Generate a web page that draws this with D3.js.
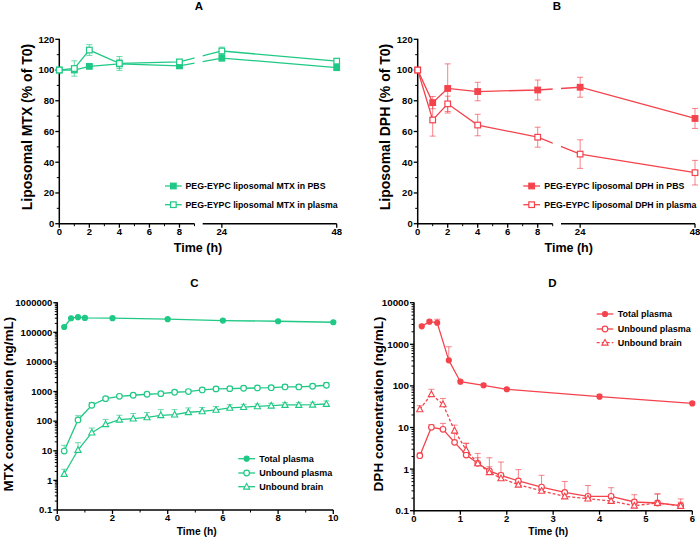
<!DOCTYPE html>
<html><head><meta charset="utf-8">
<script src="https://cdn.jsdelivr.net/npm/d3@7"></script>
<style>
body{margin:0;background:#fff}
svg{display:block}
text{font-family:"Liberation Sans",Arial,sans-serif;font-weight:bold;fill:#000}
</style></head>
<body><svg id="chart" width="700" height="539"></svg>
<script>
// ---------- DATA ----------
const timesAB = [0, 1, 2, 4, 8, 24, 48];
const mtxPBS = [100, 100, 102.4, 104, 102.7, 107.8, 101.6];
const mtxPBSsd = [0, 0.8, 1, 3, 1.5, 2, 2];
const mtxPlasma = [100, 101, 113, 104.3, 105.3, 112.4, 105.8];
const mtxPlasmaSd = [0, 5, 3.5, 4.5, 1.5, 2.5, 1.5];

const dphPBS = [100, 78.8, 88, 86, 87, 88.8, 68.5];
const dphPBSsd = [0, 4, 16, 6, 6.5, 6.5, 6.5];
const dphPlasma = [100, 67.5, 78, 64.2, 56.3, 45.3, 33.2];
const dphPlasmaSd = [0, 10.5, 5, 7, 6.5, 9.3, 8];

const timesCtot = [0.25, 0.5, 0.75, 1, 2, 4, 6, 8, 10];
const mtxTotal = [151000, 299000, 324000, 306000, 300000, 277000, 249000, 236000, 219000];
const mtxTotalSd = [10000, 15000, 15000, 15000, 12000, 12000, 12000, 10000, 10000];
const timesCunb = [0.25, 0.75, 1.25, 1.75, 2.25, 2.75, 3.25, 3.75, 4.25, 4.75, 5.25, 5.75, 6.25, 6.75, 7.25, 7.75, 8.25, 8.75, 9.25, 9.75];
const mtxUnbPlasma = [9.8, 110, 344, 575, 690, 750, 810, 850, 946, 1000, 1130, 1230, 1250, 1290, 1320, 1350, 1430, 1430, 1510, 1630];
const mtxUnbPlasmaSd = [5.5, 43, 80, 90, 100, 100, 110, 120, 140, 150, 170, 200, 220, 230, 250, 250, 280, 280, 300, 350];
const mtxUnbBrain = [1.64, 10.6, 41, 78.5, 112, 122, 135, 158, 166, 200, 215, 240, 280, 300, 318, 333, 352, 352, 360, 380];
const mtxUnbBrainSd = [0.73, 8.2, 17.6, 36, 46, 60, 60, 87, 79, 80, 75, 70, 80, 70, 62, 67, 68, 68, 75, 100];

const timesDtot = [0.167, 0.333, 0.5, 0.75, 1, 1.5, 2, 4, 6];
const dphTotal = [2700, 3500, 3300, 412, 126, 103, 83, 55, 38];
const dphTotalSd = [300, 300, 700, 460, 10, 8, 5, 8, 3];
const timesDunb = [0.125, 0.375, 0.625, 0.875, 1.125, 1.375, 1.625, 1.875, 2.25, 2.75, 3.25, 3.75, 4.25, 4.75, 5.25, 5.75];
const dphUnbPlasma = [2.1, 10.1, 9.06, 4.4, 2.18, 1.38, 0.91, 0.71, 0.52, 0.37, 0.275, 0.222, 0.222, 0.162, 0.153, 0.132];
const dphUnbPlasmaSd = [0.35, 1.6, 3.5, 2.8, 2, 1, 0.96, 0.77, 0.45, 0.34, 0.23, 0.18, 0.135, 0.08, 0.1, 0.06];
const dphUnbBrain = [27.4, 63, 36, 8.4, 2.87, 1.38, 0.84, 0.6, 0.42, 0.30, 0.22, 0.195, 0.171, 0.132, 0.153, 0.13];
const dphUnbBrainSd = [6, 20, 14, 3, 1.3, 0.5, 0.3, 0.2, 0.1, 0.08, 0.05, 0.04, 0.03, 0.02, 0.1, 0.03];

const linTicksY = [0, 20, 40, 60, 80, 100, 120];
const linMinorY = [10, 30, 50, 70, 90, 110];
const seg1Ticks = [0, 2, 4, 6, 8];
const seg1Minor = [1, 3, 5, 7, 9];
const seg2Ticks = [24, 48];
const logTicksC = [0.1, 1, 10, 100, 1000, 10000, 100000, 1000000];
const logTicksD = [0.1, 1, 10, 100, 1000, 10000];
const ticksCx = [0, 2, 4, 6, 8, 10];
const minorCx = [1, 3, 5, 7, 9];
const ticksDx = [0, 1, 2, 3, 4, 5, 6];

const GREEN = "#1fc985";
const RED = "#f4434c";

// ---------- HELPERS ----------
const svg = d3.select("#chart");
const zip = (ts, vs, sds) => ts.map((t, i) => ({t, v: vs[i], sd: sds ? sds[i] : 0}));

function axisY(g, y, x0, majors, minors, fmt, fs) {
  const [r0, r1] = y.range();
  g.append("line").attr("x1", x0).attr("x2", x0).attr("y1", r0 + 0.75).attr("y2", r1 - 0.5)
    .attr("stroke", "#000").attr("stroke-width", 1.5);
  majors.forEach(v => {
    g.append("line").attr("x1", x0 - 4).attr("x2", x0).attr("y1", y(v)).attr("y2", y(v)).attr("stroke", "#000").attr("stroke-width", 1.3);
    g.append("text").attr("x", x0 - 5).attr("y", y(v)).attr("dy", "0.35em").attr("text-anchor", "end")
      .style("font-size", fs + "px").text(fmt(v));
  });
  minors.forEach(v => {
    g.append("line").attr("x1", x0 - 2.5).attr("x2", x0).attr("y1", y(v)).attr("y2", y(v)).attr("stroke", "#000").attr("stroke-width", 1);
  });
}
function axisX(g, x, y0, a, b, majors, minors, fs) {
  g.append("line").attr("x1", a).attr("x2", b).attr("y1", y0).attr("y2", y0).attr("stroke", "#000").attr("stroke-width", 1.5);
  majors.forEach(v => {
    g.append("line").attr("x1", x(v)).attr("x2", x(v)).attr("y1", y0).attr("y2", y0 + 4).attr("stroke", "#000").attr("stroke-width", 1.3);
    g.append("text").attr("x", x(v)).attr("y", y0 + 4.5).attr("dy", "0.72em").attr("text-anchor", "middle")
      .style("font-size", fs + "px").text(v);
  });
  minors.forEach(v => {
    g.append("line").attr("x1", x(v)).attr("x2", x(v)).attr("y1", y0).attr("y2", y0 + 2.5).attr("stroke", "#000").attr("stroke-width", 1);
  });
}
function logMinors(lo, hi) {
  const out = [];
  for (let d = lo; d < hi; d *= 10) for (let k = 2; k <= 9; k++) out.push(d * k);
  return out;
}
function errBars(g, data, x, y, color, both) {
  data.forEach(d => {
    if (!d.sd) return;
    const top = y(d.v + d.sd), bot = both ? y(Math.max(d.v - d.sd, 1e-9)) : y(d.v);
    const gx = x(d.t);
    g.append("line").attr("x1", gx).attr("x2", gx).attr("y1", top).attr("y2", bot).attr("stroke", color).attr("stroke-width", 1).attr("opacity", 0.65);
    g.append("line").attr("x1", gx - 3).attr("x2", gx + 3).attr("y1", top).attr("y2", top).attr("stroke", color).attr("stroke-width", 1).attr("opacity", 0.65);
    if (both) g.append("line").attr("x1", gx - 3).attr("x2", gx + 3).attr("y1", bot).attr("y2", bot).attr("stroke", color).attr("stroke-width", 1).attr("opacity", 0.65);
  });
}
function marker(g, type, cx, cy, color) {
  if (type === "sqF" || type === "sqO") {
    g.append("rect").attr("x", cx - 2.8).attr("y", cy - 2.8).attr("width", 5.6).attr("height", 5.6)
      .attr("fill", type === "sqF" ? color : "#fff").attr("stroke", color).attr("stroke-width", 1.2);
  } else if (type === "cF" || type === "cO") {
    g.append("circle").attr("cx", cx).attr("cy", cy).attr("r", type === "cF" ? 2.5 : 2.8)
      .attr("fill", type === "cF" ? color : "#fff").attr("stroke", color).attr("stroke-width", 1.2);
  } else if (type === "tri") {
    g.append("path").attr("d", `M${cx},${cy - 3.3}L${cx + 3.1},${cy + 2.4}L${cx - 3.1},${cy + 2.4}Z`)
      .attr("fill", "#fff").attr("stroke", color).attr("stroke-width", 1.1);
  }
}
function series(g, data, x, y, color, type, dash, clipId) {
  const line = d3.line().x(d => x(d.t)).y(d => y(d.v));
  const p = g.append("path").datum(data).attr("d", line).attr("fill", "none").attr("stroke", color).attr("stroke-width", 1.3);
  if (dash) p.attr("stroke-dasharray", dash);
  if (clipId) p.attr("clip-path", `url(#${clipId})`);
}
function legend(g, items, x1, x2, tx, ys, color, fs) {
  items.forEach((it, i) => {
    const ln = g.append("line").attr("x1", x1).attr("x2", x2).attr("y1", ys[i]).attr("y2", ys[i]).attr("stroke", color).attr("stroke-width", 1.3);
    if (it.dash) ln.attr("stroke-dasharray", it.dash);
    marker(g, it.type, (x1 + x2) / 2, ys[i], color);
    g.append("text").attr("x", tx).attr("y", ys[i]).attr("dy", "0.35em").style("font-size", fs + "px").text(it.label);
  });
}
function title(txt, x, y) {
  svg.append("text").attr("x", x).attr("y", y).attr("text-anchor", "middle").style("font-size", "11.5px").text(txt);
}
function yLabel(txt, x, y, fs) {
  svg.append("text").attr("transform", `translate(${x},${y}) rotate(-90)`).attr("text-anchor", "middle")
    .style("font-size", fs + "px").text(txt);
}
function xLabel(txt, x, y, fs) {
  svg.append("text").attr("x", x).attr("y", y).attr("text-anchor", "middle").style("font-size", fs + "px").text(txt);
}

// ---------- PANELS A & B (broken x axis) ----------
function brokenPanel(o) {
  const g = svg.append("g");
  const y = d3.scaleLinear().domain([0, 120]).range([223.7, 39.3]);
  const xs1 = d3.scaleLinear().domain([0, 9]).range([o.x0, o.s1end]);
  const xs2 = d3.scaleLinear().domain([20, 48]).range([o.s2start, o.x48]);
  const x = t => (t <= 9 ? xs1(t) : xs2(t));
  const defs = svg.append("defs");
  const cp = defs.append("clipPath").attr("id", o.id);
  cp.append("rect").attr("x", o.x0 - 20).attr("y", 0).attr("width", o.s1end - o.x0 + 20).attr("height", 260);
  cp.append("rect").attr("x", o.s2start).attr("y", 0).attr("width", 60 + o.x48 - o.s2start).attr("height", 260);

  axisY(g, y, o.x0, linTicksY, linMinorY, d => d, 9.5);
  axisX(g, xs1, 223.7, o.x0, o.s1end, seg1Ticks, seg1Minor, 9.5);
  axisX(g, xs2, 223.7, o.s2start, o.x48, seg2Ticks, [], 9.5);

  const dF = zip(timesAB, o.filled, o.filledSd);
  const dO = zip(timesAB, o.open, o.openSd);
  errBars(g, dF, x, y, o.color, true);
  errBars(g, dO, x, y, o.color, true);
  series(g, dF, x, y, o.color, null, null, o.id);
  series(g, dO, x, y, o.color, null, null, o.id);
  dF.forEach(d => marker(g, "sqF", x(d.t), y(d.v), o.color));
  dO.forEach(d => marker(g, "sqO", x(d.t), y(d.v), o.color));
  legend(g, [{type: "sqF", label: o.l1}, {type: "sqO", label: o.l2}], o.lx1, o.lx2, o.ltx, [186, 204.7], o.color, 8.75);
}
brokenPanel({id: "clipA", x0: 59.3, s1end: 194.5, s2start: 202.7, x48: 336.7, color: GREEN,
  filled: mtxPBS, filledSd: mtxPBSsd, open: mtxPlasma, openSd: mtxPlasmaSd,
  l1: "PEG-EYPC liposomal MTX in PBS", l2: "PEG-EYPC liposomal MTX in plasma", lx1: 165, lx2: 181.7, ltx: 185.5});
brokenPanel({id: "clipB", x0: 417.7, s1end: 552.7, s2start: 561, x48: 695, color: RED,
  filled: dphPBS, filledSd: dphPBSsd, open: dphPlasma, openSd: dphPlasmaSd,
  l1: "PEG-EYPC liposomal DPH in PBS", l2: "PEG-EYPC liposomal DPH in plasma", lx1: 523.3, lx2: 540, ltx: 544.3});

title("A", 199, 9.7);
title("B", 557, 9.7);
yLabel("Liposomal MTX (% of T0)", 32, 127, 14);
yLabel("Liposomal DPH (% of T0)", 389.5, 127, 14);
xLabel("Time (h)", 198, 251.5, 12.5);
xLabel("Time (h)", 568.7, 251.5, 12.5);

// ---------- PANEL C ----------
(function () {
  const g = svg.append("g");
  const x = d3.scaleLinear().domain([0, 10]).range([57.3, 333.3]);
  const y = d3.scaleLog().domain([0.1, 1000000]).range([510, 302.7]);
  const fmt = v => (v < 1 ? "0.1" : String(v));
  axisY(g, y, 57.3, logTicksC, logMinors(0.1, 1000000), fmt, 9.5);
  axisX(g, x, 510, 57.3, 333.3, ticksCx, minorCx, 9.5);
  const dT = zip(timesCtot, mtxTotal, mtxTotalSd);
  const dP = zip(timesCunb, mtxUnbPlasma, mtxUnbPlasmaSd);
  const dB = zip(timesCunb, mtxUnbBrain, mtxUnbBrainSd);
  errBars(g, dT, x, y, GREEN, false);
  errBars(g, dP, x, y, GREEN, false);
  errBars(g, dB, x, y, GREEN, false);
  series(g, dT, x, y, GREEN);
  series(g, dP, x, y, GREEN);
  series(g, dB, x, y, GREEN);
  dT.forEach(d => marker(g, "cF", x(d.t), y(d.v), GREEN));
  dP.forEach(d => marker(g, "cO", x(d.t), y(d.v), GREEN));
  dB.forEach(d => marker(g, "tri", x(d.t), y(d.v), GREEN));
  legend(g, [{type: "cF", label: "Total plasma"}, {type: "cO", label: "Unbound plasma"}, {type: "tri", label: "Unbound brain"}],
    238.3, 255, 259.3, [458.7, 473, 486.7], GREEN, 9);
})();
title("C", 194.3, 286.7);
yLabel("MTX concentration (ng/mL)", 12.5, 404, 13.5);
xLabel("Time (h)", 196.7, 534.5, 10.3);

// ---------- PANEL D ----------
(function () {
  const g = svg.append("g");
  const x = d3.scaleLinear().domain([0, 6]).range([414, 692.3]);
  const y = d3.scaleLog().domain([0.1, 10000]).range([510.7, 302.7]);
  const fmt = v => (v < 1 ? "0.1" : String(v));
  axisY(g, y, 414, logTicksD, logMinors(0.1, 10000), fmt, 9.8);
  axisX(g, x, 510.7, 414, 692.3, ticksDx, [], 9.5);
  const dT = zip(timesDtot, dphTotal, dphTotalSd);
  const dP = zip(timesDunb, dphUnbPlasma, dphUnbPlasmaSd);
  const dB = zip(timesDunb, dphUnbBrain, dphUnbBrainSd);
  errBars(g, dT, x, y, RED, false);
  errBars(g, dP, x, y, RED, false);
  errBars(g, dB, x, y, RED, false);
  series(g, dT, x, y, RED);
  series(g, dP, x, y, RED);
  series(g, dB, x, y, RED, null, "3,2");
  dT.forEach(d => marker(g, "cF", x(d.t), y(d.v), RED));
  dP.forEach(d => marker(g, "cO", x(d.t), y(d.v), RED));
  dB.forEach(d => marker(g, "tri", x(d.t), y(d.v), RED));
  legend(g, [{type: "cF", label: "Total plasma"}, {type: "cO", label: "Unbound plasma"}, {type: "tri", label: "Unbound brain", dash: "3,2"}],
    596.7, 613.3, 617.7, [314, 329, 342.7], RED, 9);
})();
title("D", 552.3, 286.7);
yLabel("DPH concentration (ng/mL)", 382.7, 404, 13.5);
xLabel("Time (h)", 548.3, 534.5, 10.3);
</script>
</body></html>
